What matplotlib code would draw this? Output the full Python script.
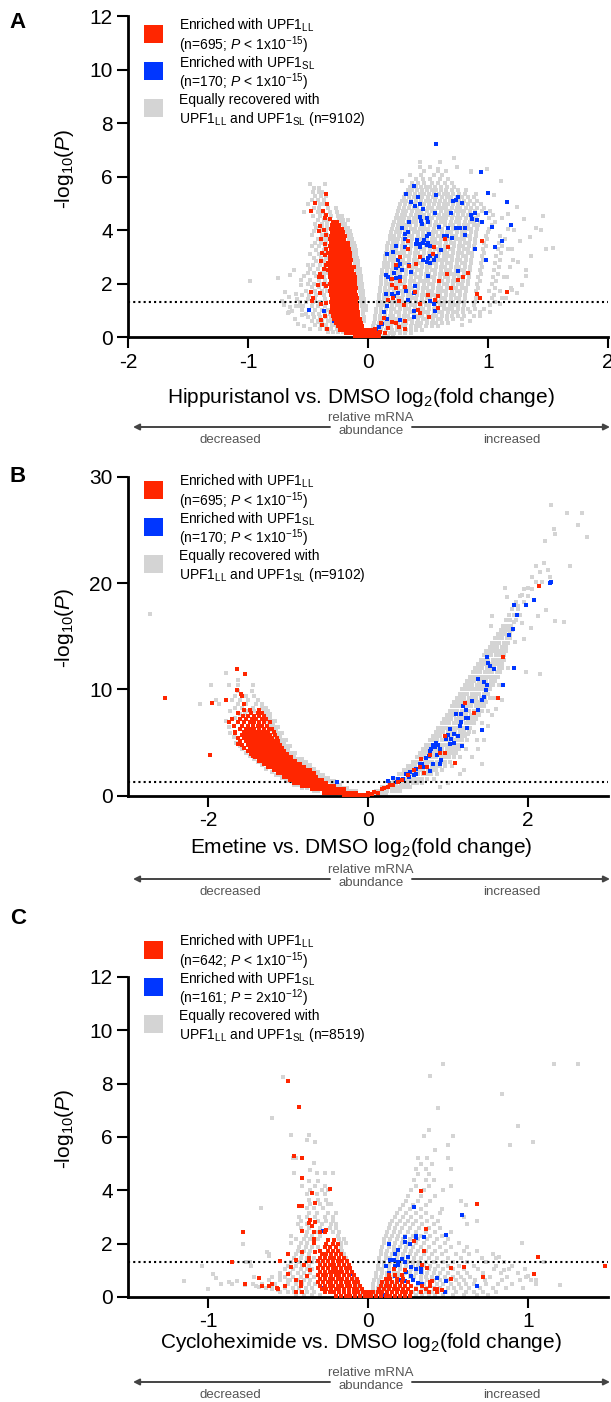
import numpy as np
import matplotlib.pyplot as plt
import matplotlib.patches as mpatches

plt.rcParams['font.family'] = ['Liberation Sans', 'DejaVu Sans']
plt.rcParams['mathtext.fontset'] = 'custom'
plt.rcParams['mathtext.rm'] = 'Liberation Sans'
plt.rcParams['mathtext.it'] = 'Liberation Sans:italic'
plt.rcParams['mathtext.bf'] = 'Liberation Sans:bold'
plt.rcParams['axes.unicode_minus'] = False

RED = '#ff2600'
BLUE = '#0036ff'
GRAY = '#d4d4d4'

# ---------------- panel A : hippuristanol ----------------
# rows are (y, [x, x, ...]), pts are (x, y)
a_gray_rows = [
    (5.72, [-0.48, -0.36]), (5.58, [-0.45, -0.41]), (5.43, [-0.46, -0.41, -0.38]),
    (5.28, [-0.44, -0.39, -0.35]), (5.12, [-0.47, -0.42, -0.37]), (4.98, [-0.5, -0.4, -0.37]),
    (4.84, [-0.45, -0.41, -0.33, -0.27]), (4.68, [-0.53, -0.42, -0.38, -0.32, -0.26]),
    (4.52, [-0.46, -0.4, -0.36, -0.31, -0.25, -0.22]), (4.38, [-0.42, -0.37, -0.33, -0.24, -0.21, -0.17]),
    (4.24, [-0.44, -0.38, -0.34, -0.22, -0.19]), (4.1, [-0.43, -0.38, -0.34, -0.2, -0.17]),
    (3.96, [-0.45, -0.4, -0.35, -0.18, -0.15]), (3.82, [-0.47, -0.38, -0.34, -0.17, -0.14]),
    (3.68, [-0.42, -0.37, -0.35, -0.16, -0.13]), (3.54, [-0.44, -0.39, -0.35, -0.15, -0.12]),
    (3.4, [-0.47, -0.41, -0.36, -0.14, -0.11]), (3.26, [-0.43, -0.37, -0.13, -0.1]),
    (3.12, [-0.48, -0.41, -0.36, -0.12, -0.1]), (2.98, [-0.45, -0.39, -0.35, -0.12, -0.09]),
    (2.84, [-0.43, -0.37, -0.11, -0.08]), (2.7, [-0.46, -0.4, -0.36, -0.11, -0.08]),
    (2.56, [-0.48, -0.42, -0.36, -0.1, -0.07]), (2.42, [-0.5, -0.45, -0.38, -0.35, -0.09, -0.07]),
    (2.28, [-0.53, -0.43, -0.37, -0.09, -0.06]), (2.14, [-0.56, -0.48, -0.41, -0.36, -0.08, -0.06]),
    (2.0, [-0.5, -0.45, -0.39, -0.35, -0.08, -0.05]), (1.86, [-0.47, -0.41, -0.36, -0.07, -0.05]),
    (1.72, [-0.52, -0.44, -0.38, -0.34, -0.07, -0.04]), (1.58, [-0.55, -0.49, -0.43, -0.37, -0.06, -0.04]),
    (1.44, [-0.59, -0.5, -0.44, -0.36, -0.06, -0.03]), (1.3, [-0.57, -0.52, -0.46, -0.4, -0.35, -0.05, -0.03]),
    (1.16, [-0.6, -0.54, -0.47, -0.42, -0.36, -0.05, -0.02]), (1.02, [-0.55, -0.49, -0.44, -0.38, -0.33, -0.04, -0.02]),
    (0.88, [-0.52, -0.46, -0.41, -0.36, -0.32, -0.04]), (0.74, [-0.5, -0.45, -0.4, -0.35, -0.31, -0.03]),
    (0.6, [-0.47, -0.42, -0.38, -0.33, -0.3, -0.03]), (0.46, [-0.44, -0.39, -0.35, -0.3, -0.27]),
    (0.32, [-0.4, -0.35, -0.31, -0.26]), (0.18, [-0.33, -0.29, -0.25, -0.21]),
    # right cloud
    (0.04, [0.02, 0.05, 0.09, 0.13, 0.17, 0.21]),
    (0.16, [0.03, 0.07, 0.1, 0.14, 0.18, 0.22, 0.27, 0.31, 0.36]),
    (0.29, [0.04, 0.08, 0.11, 0.15, 0.2, 0.24, 0.27, 0.32, 0.36, 0.4, 0.45]),
    (0.42, [0.04, 0.08, 0.12, 0.16, 0.19, 0.24, 0.28, 0.31, 0.36, 0.4, 0.43, 0.48, 0.53, 0.58]),
    (0.55, [0.05, 0.09, 0.13, 0.17, 0.2, 0.25, 0.29, 0.32, 0.37, 0.41, 0.44, 0.49, 0.53, 0.57, 0.62, 0.67]),
    (0.68, [0.06, 0.1, 0.13, 0.18, 0.22, 0.25, 0.3, 0.34, 0.37, 0.42, 0.46, 0.49, 0.54, 0.58, 0.61, 0.66, 0.71, 0.78]),
    (0.81, [0.06, 0.1, 0.14, 0.18, 0.21, 0.26, 0.3, 0.33, 0.38, 0.42, 0.45, 0.5, 0.54, 0.57, 0.62, 0.66, 0.7, 0.75, 0.8, 0.88]),
    (0.94, [0.07, 0.11, 0.14, 0.19, 0.23, 0.26, 0.31, 0.35, 0.38, 0.43, 0.47, 0.5, 0.55, 0.59, 0.62, 0.67, 0.71, 0.74, 0.79, 0.85, 0.93]),
    (1.07, [0.07, 0.11, 0.15, 0.19, 0.22, 0.27, 0.31, 0.34, 0.39, 0.43, 0.46, 0.51, 0.55, 0.58, 0.63, 0.67, 0.7, 0.75, 0.79, 0.83, 0.89, 0.97]),
    (1.2, [0.08, 0.12, 0.15, 0.2, 0.24, 0.27, 0.32, 0.36, 0.39, 0.44, 0.48, 0.51, 0.56, 0.6, 0.63, 0.68, 0.72, 0.75, 0.8, 0.88, 1.02]),
    (1.33, [0.08, 0.12, 0.16, 0.2, 0.23, 0.28, 0.32, 0.35, 0.4, 0.44, 0.47, 0.52, 0.56, 0.59, 0.64, 0.68, 0.71, 0.76, 0.8, 0.89, 1.06]),
    (1.46, [0.09, 0.13, 0.16, 0.21, 0.25, 0.28, 0.33, 0.37, 0.4, 0.45, 0.49, 0.52, 0.57, 0.61, 0.64, 0.69, 0.73, 0.76, 0.81, 0.9, 1.03, 1.12]),
    (1.59, [0.09, 0.13, 0.17, 0.21, 0.24, 0.29, 0.33, 0.36, 0.41, 0.45, 0.48, 0.53, 0.57, 0.6, 0.65, 0.69, 0.72, 0.77, 0.81, 0.91, 1.05]),
    (1.72, [0.1, 0.14, 0.17, 0.22, 0.26, 0.29, 0.34, 0.38, 0.41, 0.46, 0.5, 0.53, 0.58, 0.62, 0.65, 0.7, 0.74, 0.77, 0.82, 0.9, 1.01, 1.1]),
    (1.85, [0.1, 0.14, 0.18, 0.22, 0.25, 0.3, 0.34, 0.37, 0.42, 0.46, 0.49, 0.54, 0.58, 0.61, 0.66, 0.7, 0.73, 0.78, 0.82, 0.92, 1.06, 1.19]),
    (1.98, [0.11, 0.15, 0.18, 0.23, 0.27, 0.3, 0.35, 0.39, 0.42, 0.47, 0.51, 0.54, 0.59, 0.63, 0.66, 0.71, 0.75, 0.78, 0.83, 0.91, 1.03]),
    (2.11, [0.11, 0.15, 0.19, 0.23, 0.26, 0.31, 0.35, 0.38, 0.43, 0.47, 0.5, 0.55, 0.59, 0.62, 0.67, 0.71, 0.74, 0.79, 0.83, 0.93, 1.07]),
    (2.24, [0.11, 0.15, 0.19, 0.24, 0.28, 0.31, 0.36, 0.4, 0.43, 0.48, 0.52, 0.55, 0.6, 0.64, 0.67, 0.72, 0.76, 0.79, 0.84, 0.92, 1.04, 1.13]),
    (2.37, [0.12, 0.16, 0.2, 0.24, 0.27, 0.32, 0.36, 0.39, 0.44, 0.48, 0.51, 0.56, 0.6, 0.63, 0.68, 0.72, 0.75, 0.8, 0.84, 0.94, 1.08]),
    (2.5, [0.12, 0.16, 0.2, 0.25, 0.29, 0.32, 0.37, 0.41, 0.44, 0.49, 0.53, 0.56, 0.61, 0.65, 0.68, 0.73, 0.77, 0.8, 0.85, 0.93, 1.05]),
    (2.63, [0.13, 0.17, 0.21, 0.25, 0.28, 0.33, 0.37, 0.4, 0.45, 0.49, 0.52, 0.57, 0.61, 0.64, 0.69, 0.73, 0.76, 0.81, 0.85, 0.95, 1.09, 1.18]),
    (2.76, [0.13, 0.17, 0.21, 0.26, 0.3, 0.33, 0.38, 0.42, 0.45, 0.5, 0.54, 0.57, 0.62, 0.66, 0.69, 0.74, 0.78, 0.81, 0.86, 0.94, 1.06]),
    (2.89, [0.14, 0.18, 0.22, 0.26, 0.29, 0.34, 0.38, 0.41, 0.46, 0.5, 0.53, 0.58, 0.62, 0.65, 0.7, 0.74, 0.77, 0.82, 0.86, 0.96, 1.1, 1.21]),
    (3.02, [0.14, 0.18, 0.22, 0.27, 0.31, 0.34, 0.39, 0.43, 0.46, 0.51, 0.55, 0.58, 0.63, 0.67, 0.7, 0.75, 0.79, 0.82, 0.87, 0.95, 1.07]),
    (3.15, [0.15, 0.19, 0.23, 0.27, 0.3, 0.35, 0.39, 0.42, 0.47, 0.51, 0.54, 0.59, 0.63, 0.66, 0.71, 0.75, 0.78, 0.83, 0.87, 0.97, 1.11]),
    (3.28, [0.16, 0.2, 0.23, 0.28, 0.32, 0.35, 0.4, 0.44, 0.47, 0.52, 0.56, 0.59, 0.64, 0.68, 0.71, 0.76, 0.8, 0.83, 0.88, 0.96, 1.08, 1.17]),
    (3.41, [0.16, 0.2, 0.24, 0.28, 0.31, 0.36, 0.4, 0.43, 0.48, 0.52, 0.55, 0.6, 0.64, 0.67, 0.72, 0.76, 0.79, 0.84, 0.88, 0.98, 1.12]),
    (3.54, [0.17, 0.21, 0.24, 0.29, 0.33, 0.36, 0.41, 0.45, 0.48, 0.53, 0.57, 0.6, 0.65, 0.69, 0.72, 0.77, 0.81, 0.84, 0.89, 0.97, 1.09]),
    (3.67, [0.18, 0.22, 0.25, 0.29, 0.32, 0.37, 0.41, 0.44, 0.49, 0.53, 0.56, 0.61, 0.65, 0.68, 0.73, 0.77, 0.8, 0.85, 0.89, 0.99, 1.14]),
    (3.8, [0.18, 0.22, 0.26, 0.3, 0.34, 0.37, 0.42, 0.46, 0.49, 0.54, 0.58, 0.61, 0.66, 0.7, 0.73, 0.78, 0.82, 0.85, 0.9, 0.98, 1.1]),
    (3.93, [0.19, 0.23, 0.27, 0.31, 0.34, 0.38, 0.42, 0.46, 0.5, 0.54, 0.57, 0.62, 0.66, 0.69, 0.74, 0.78, 0.81, 0.86, 0.9, 1.0]),
    (4.06, [0.2, 0.24, 0.27, 0.32, 0.36, 0.39, 0.43, 0.47, 0.5, 0.55, 0.59, 0.62, 0.67, 0.71, 0.74, 0.79, 0.83, 0.86, 0.91, 1.01, 1.17]),
    (4.19, [0.21, 0.25, 0.28, 0.32, 0.35, 0.4, 0.44, 0.47, 0.52, 0.56, 0.59, 0.64, 0.68, 0.71, 0.76, 0.8, 0.83, 0.88, 0.92, 1.03]),
    (4.32, [0.22, 0.26, 0.29, 0.33, 0.37, 0.4, 0.45, 0.49, 0.52, 0.57, 0.61, 0.64, 0.69, 0.73, 0.76, 0.81, 0.85, 0.88, 0.93, 1.06]),
    (4.45, [0.23, 0.27, 0.3, 0.34, 0.38, 0.42, 0.46, 0.5, 0.53, 0.58, 0.62, 0.65, 0.7, 0.74, 0.77, 0.82, 0.86, 0.9, 1.01, 1.12]),
    (4.58, [0.24, 0.28, 0.31, 0.36, 0.4, 0.43, 0.47, 0.51, 0.55, 0.59, 0.63, 0.67, 0.71, 0.75, 0.79, 0.83, 0.87, 0.92, 1.04]),
    (4.71, [0.25, 0.29, 0.32, 0.37, 0.41, 0.44, 0.49, 0.53, 0.56, 0.61, 0.65, 0.68, 0.73, 0.77, 0.8, 0.85, 0.89, 0.95, 1.02]),
    (4.84, [0.26, 0.3, 0.34, 0.38, 0.41, 0.46, 0.5, 0.53, 0.58, 0.62, 0.65, 0.7, 0.74, 0.77, 0.82, 0.86, 0.91, 0.97]),
    (4.97, [0.27, 0.31, 0.35, 0.39, 0.43, 0.47, 0.51, 0.55, 0.59, 0.63, 0.67, 0.71, 0.75, 0.79, 0.83, 0.88, 0.94]),
    (5.1, [0.28, 0.32, 0.36, 0.4, 0.44, 0.48, 0.52, 0.56, 0.6, 0.64, 0.68, 0.72, 0.76, 0.8, 0.85, 0.91]),
    (5.23, [0.3, 0.34, 0.38, 0.42, 0.45, 0.5, 0.54, 0.57, 0.62, 0.66, 0.69, 0.74, 0.78, 0.83, 0.88]),
    (5.36, [0.31, 0.35, 0.39, 0.43, 0.47, 0.51, 0.55, 0.59, 0.63, 0.67, 0.71, 0.76, 0.81, 0.9]),
    (5.49, [0.33, 0.37, 0.41, 0.45, 0.49, 0.53, 0.57, 0.61, 0.65, 0.7, 0.75, 0.82]),
    (5.62, [0.35, 0.4, 0.44, 0.48, 0.52, 0.56, 0.61, 0.66, 0.72]),
    (5.76, [0.37, 0.42, 0.47, 0.53, 0.58, 0.64, 0.7]),
    (5.9, [0.4, 0.46, 0.52, 0.6, 0.67]), (6.05, [0.35, 0.44, 0.55, 0.62]),
    (6.2, [0.47, 0.58, 0.65, 0.86]), (6.35, [0.43, 0.52, 0.74]), (6.55, [0.43, 0.6]), (6.7, [0.72]),
]
a_gray_pts = [
    (-0.98, 2.12), (-0.75, 2.2), (-0.65, 2.33), (-0.72, 1.37), (-0.66, 0.96), (-0.69, 1.71),
    (-0.66, 1.52), (-0.7, 1.2), (-0.65, 1.14), (-0.67, 0.92), (-0.63, 0.99), (-0.57, 1.17),
    (-0.61, 0.7), (-0.58, 0.5), (-0.53, 0.42), (-0.48, 0.3), (-0.42, 0.56), (-0.55, 0.85),
    (-0.6, 1.6), (-0.56, 1.95), (-0.62, 2.5), (-0.5, 2.7),
    (1.24, 4.85), (1.46, 4.53), (1.4, 4.1), (1.44, 3.99), (1.54, 3.35), (1.48, 3.3), (1.36, 3.04),
    (1.32, 2.52), (1.32, 2.3), (1.28, 1.96), (1.24, 1.64), (1.2, 1.78), (1.16, 2.27), (1.11, 5.82),
    (0.99, 6.3), (1.22, 4.0), (1.27, 3.6), (1.2, 3.3), (1.25, 2.8), (1.15, 1.45), (1.1, 1.25),
    (1.02, 0.95), (0.93, 0.8), (0.85, 0.6), (0.78, 0.45), (0.86, 6.16), (0.65, 6.2), (0.58, 6.29),
    (0.28, 5.82), (1.3, 4.4), (1.35, 3.75), (1.17, 4.6), (1.05, 5.3),
]
a_red_rows = [
    (4.32, [-0.29, -0.26]), (4.19, [-0.3, -0.27, -0.24]), (4.06, [-0.31, -0.28, -0.25, -0.22]),
    (3.93, [-0.3, -0.27, -0.24, -0.21]), (3.8, [-0.31, -0.28, -0.25, -0.22, -0.19]),
    (3.67, [-0.32, -0.29, -0.26, -0.23, -0.2]), (3.54, [-0.31, -0.28, -0.25, -0.22, -0.19, -0.17]),
    (3.41, [-0.32, -0.29, -0.26, -0.23, -0.2, -0.17]), (3.28, [-0.31, -0.28, -0.25, -0.22, -0.19, -0.16]),
    (3.15, [-0.33, -0.3, -0.27, -0.24, -0.21, -0.18, -0.15]), (3.02, [-0.32, -0.29, -0.26, -0.23, -0.2, -0.17, -0.15]),
    (2.89, [-0.32, -0.29, -0.26, -0.23, -0.2, -0.17, -0.14]), (2.76, [-0.33, -0.3, -0.27, -0.24, -0.21, -0.18, -0.15]),
    (2.63, [-0.32, -0.29, -0.26, -0.23, -0.2, -0.17, -0.14, -0.12]),
    (2.5, [-0.33, -0.3, -0.27, -0.24, -0.21, -0.18, -0.15, -0.13]),
    (2.37, [-0.32, -0.29, -0.26, -0.23, -0.2, -0.17, -0.14, -0.12]),
    (2.24, [-0.32, -0.29, -0.26, -0.23, -0.2, -0.17, -0.14, -0.11]),
    (2.11, [-0.31, -0.28, -0.25, -0.22, -0.19, -0.16, -0.13, -0.11]),
    (1.98, [-0.32, -0.29, -0.26, -0.23, -0.2, -0.17, -0.14, -0.11]),
    (1.85, [-0.31, -0.28, -0.25, -0.22, -0.19, -0.16, -0.13, -0.1]),
    (1.72, [-0.32, -0.29, -0.26, -0.23, -0.2, -0.17, -0.14, -0.11]),
    (1.59, [-0.31, -0.28, -0.25, -0.22, -0.19, -0.16, -0.13, -0.1]),
    (1.46, [-0.3, -0.27, -0.24, -0.21, -0.18, -0.15, -0.12, -0.09]),
    (1.33, [-0.31, -0.28, -0.25, -0.22, -0.19, -0.16, -0.13, -0.1]),
    (1.2, [-0.3, -0.27, -0.24, -0.21, -0.18, -0.15, -0.12, -0.09]),
    (1.07, [-0.3, -0.27, -0.24, -0.21, -0.18, -0.15, -0.12, -0.09]),
    (0.94, [-0.29, -0.26, -0.23, -0.2, -0.17, -0.14, -0.11, -0.08]),
    (0.81, [-0.29, -0.26, -0.23, -0.2, -0.17, -0.14, -0.11, -0.08]),
    (0.68, [-0.28, -0.25, -0.22, -0.19, -0.16, -0.13, -0.1, -0.07]),
    (0.55, [-0.27, -0.24, -0.21, -0.18, -0.15, -0.12, -0.09, -0.06]),
    (0.42, [-0.25, -0.22, -0.19, -0.16, -0.13, -0.1, -0.07, -0.05]),
    (0.29, [-0.23, -0.2, -0.17, -0.14, -0.11, -0.08, -0.05, -0.03, 0.0, 0.03]),
    (0.16, [-0.18, -0.15, -0.12, -0.09, -0.06, -0.03, -0.01, 0.02, 0.05, 0.08]),
    (0.04, [-0.11, -0.08, -0.05, -0.02, 0.0, 0.03, 0.06, 0.09]),
]
a_red_pts = [
    (-0.35, 5.36), (-0.44, 5.03), (-0.34, 4.98), (-0.475, 4.73), (-0.375, 4.7), (-0.35, 4.57),
    (-0.36, 4.45), (-0.32, 4.4), (-0.4, 4.17), (-0.41, 3.97), (-0.35, 3.82), (-0.39, 3.67),
    (-0.36, 3.49), (-0.38, 3.15), (-0.36, 3.08), (-0.39, 2.86), (-0.35, 2.71), (-0.37, 2.56),
    (-0.4, 2.37), (-0.38, 2.25), (-0.41, 2.24), (-0.42, 1.96), (-0.475, 1.71), (-0.46, 1.48),
    (-0.4, 1.64), (-0.47, 1.37), (-0.39, 1.23), (-0.35, 1.27), (-0.39, 0.63), (-0.31, 0.95),
    (-0.36, 0.8), (-0.35, 1.9), (-0.37, 2.0), (-0.38, 0.45), (-0.34, 0.3), (-0.35, 3.3), (-0.37, 4.0),
    (0.33, 3.58), (0.33, 3.3), (0.64, 3.67), (0.67, 3.38), (0.95, 3.58), (0.55, 3.38), (0.27, 3.01),
    (0.43, 3.01), (0.54, 3.11), (0.4, 2.74), (0.23, 2.7), (0.34, 2.66), (0.66, 2.37), (0.83, 2.42),
    (0.79, 2.27), (0.75, 2.15), (0.59, 2.12), (0.69, 1.83), (0.2, 2.17), (0.2, 1.97), (0.23, 1.85),
    (0.31, 1.86), (0.27, 2.12), (0.39, 1.7), (0.5, 1.57), (0.58, 1.53), (0.56, 1.4), (0.91, 1.6),
    (0.93, 1.45), (1.16, 1.68), (0.17, 1.4), (0.21, 1.46), (0.26, 1.36), (0.3, 1.21), (0.43, 1.26),
    (0.58, 1.11), (0.42, 1.02), (0.43, 0.92), (0.51, 0.77), (0.31, 0.62), (0.2, 0.57), (0.23, 0.52),
    (0.26, 0.4), (0.31, 0.3), (0.13, 0.71), (0.11, 0.52), (0.06, 0.3), (0.1, 0.2), (0.14, 0.15), (0.17, 0.35),
]
a_blue_pts = [
    (0.57, 7.23), (0.94, 6.16), (0.38, 5.66), (0.32, 5.37), (0.57, 5.33), (0.42, 5.25), (0.75, 5.25),
    (1.0, 5.4), (0.73, 5.12), (0.71, 5.1), (0.78, 5.03), (0.36, 5.07), (0.39, 4.9), (0.43, 4.98),
    (0.46, 4.8), (1.16, 5.04), (0.56, 4.65), (0.69, 4.65), (0.89, 4.65), (0.98, 4.65), (0.86, 4.56),
    (0.87, 4.4), (0.91, 4.37), (0.43, 4.51), (0.49, 4.46), (0.44, 4.35), (0.5, 4.29), (0.45, 4.22),
    (0.34, 4.32), (0.95, 4.32), (1.19, 4.2), (0.59, 4.13), (0.73, 4.1), (0.77, 4.1), (0.81, 4.08),
    (0.28, 4.08), (0.67, 4.07), (1.03, 4.13), (0.33, 3.92), (0.31, 3.86), (0.81, 3.82), (0.49, 3.8),
    (0.51, 3.84), (0.63, 3.78), (0.66, 3.8), (0.7, 3.7), (0.31, 3.69), (0.41, 3.62), (0.43, 3.5),
    (0.46, 3.52), (0.47, 3.65), (0.5, 3.54), (0.52, 3.42), (0.49, 3.44), (1.12, 3.6), (0.23, 3.4),
    (0.31, 3.36), (0.33, 3.28), (0.4, 3.5), (0.43, 3.38), (0.61, 3.27), (0.89, 3.3), (1.06, 3.38),
    (0.16, 3.1), (0.21, 3.19), (0.52, 3.03), (0.57, 3.03), (0.46, 2.9), (0.49, 2.82), (0.52, 2.78),
    (0.55, 2.88), (0.5, 2.95), (0.25, 2.87), (0.27, 2.75), (0.25, 2.65), (0.23, 2.57), (0.28, 2.5),
    (0.22, 2.4), (0.34, 2.69), (0.98, 2.89), (0.15, 2.32), (0.17, 2.25), (0.23, 2.23), (0.27, 2.25),
    (0.19, 2.16), (0.36, 2.45), (0.5, 2.3), (0.75, 2.46), (0.39, 1.92), (0.32, 1.74), (0.38, 1.66),
    (0.25, 1.65), (0.2, 1.6), (0.15, 1.6), (0.22, 1.56), (0.52, 1.36), (0.55, 1.23), (0.33, 1.4),
    (0.16, 1.16), (0.13, 0.96), (0.56, 1.0), (0.38, 1.0), (0.27, 0.65), (0.16, 0.7), (0.38, 0.77),
    (0.12, 0.5), (0.09, 0.37), (0.07, 0.28), (-0.49, 1.02), (-0.37, 1.0), (-0.28, 0.6), (-0.11, 1.65),
    (-0.06, 0.35),
]

# ---------------- panel B : emetine ----------------
b_gray_rows = [
    (0.1, [-0.45, -0.4, 0.03]), (0.45, [-0.68, -0.62, -0.25, -0.2, -0.15]),
    (0.75, [-0.82, -0.76, -0.36, -0.31, -0.26]), (1.05, [-0.93, -0.88, -0.45, -0.4, -0.35]),
    (1.35, [-1.02, -0.97, -0.53, -0.48, -0.43]), (1.65, [-1.08, -1.03, -0.6, -0.55, -0.5]),
    (1.95, [-1.15, -1.1, -0.66, -0.61, -0.56]), (2.25, [-1.2, -0.72, -0.67, -0.62]),
    (2.55, [-1.27, -0.77, -0.72, -0.67]), (2.85, [-1.33, -0.82, -0.77, -0.72]),
    (3.15, [-1.38, -0.87, -0.82, -0.77]), (3.45, [-1.43, -0.92, -0.87, -0.82]),
    (3.75, [-1.48, -0.97, -0.92]), (4.05, [-1.53, -1.01, -0.96, -0.91]), (4.35, [-1.58, -1.05, -1.0]),
    (4.65, [-1.6, -1.08, -1.03, -0.98]), (4.95, [-1.65, -1.1, -1.05]), (5.25, [-1.13, -1.08, -1.03]),
    (5.55, [-1.68, -1.15, -1.1]), (5.85, [-1.72, -1.18, -1.13, -1.08]), (6.15, [-1.2, -1.15]),
    (6.45, [-1.74, -1.22, -1.17, -1.12]), (6.75, [-1.24, -1.19]), (7.05, [-1.78, -1.26, -1.21, -1.16]),
    (7.35, [-1.66, -1.27, -1.22]), (7.65, [-1.6, -1.54, -1.28, -1.23]),
    (7.95, [-1.72, -1.5, -1.42, -1.3, -1.25]), (8.25, [-1.66, -1.58, -1.44, -1.32, -1.27]),
    (8.6, [-2.1, -1.86, -1.62, -1.52, -1.4, -1.33]), (9.0, [-1.9, -1.7, -1.6, -1.5, -1.38]),
    (9.4, [-1.66, -1.52, -1.42]), (9.8, [-1.63, -1.45]), (10.4, [-1.96, -1.74, -1.63, -1.44]),
    (10.9, [-1.63]), (11.5, [-1.77]), (17.1, [-2.73]),
    # right arm
    (0.05, [-0.02, 0.03, 0.08, 0.13, 0.18, 0.23]),
    (0.4, [0.1, 0.15, 0.19, 0.24, 0.3, 0.35, 0.4]),
    (0.8, [0.18, 0.23, 0.27, 0.33, 0.38, 0.42, 0.48, 0.53]),
    (1.2, [0.26, 0.31, 0.35, 0.41, 0.46, 0.5, 0.56, 0.61, 0.68]),
    (1.6, [0.33, 0.38, 0.42, 0.48, 0.53, 0.57, 0.63, 0.68, 0.74, 0.82]),
    (2.0, [0.39, 0.44, 0.48, 0.54, 0.59, 0.63, 0.69, 0.74, 0.79, 0.86]),
    (2.4, [0.45, 0.5, 0.54, 0.6, 0.65, 0.69, 0.75, 0.8, 0.85, 0.92]),
    (2.8, [0.5, 0.55, 0.59, 0.65, 0.7, 0.74, 0.8, 0.85, 0.9, 0.96, 1.05]),
    (3.2, [0.56, 0.61, 0.65, 0.71, 0.76, 0.8, 0.86, 0.91, 0.96, 1.02]),
    (3.6, [0.61, 0.66, 0.7, 0.76, 0.81, 0.85, 0.91, 0.96, 1.01, 1.07, 1.15]),
    (4.0, [0.65, 0.7, 0.74, 0.8, 0.85, 0.89, 0.95, 1.0, 1.05, 1.1]),
    (4.4, [0.69, 0.74, 0.78, 0.84, 0.89, 0.93, 0.99, 1.04, 1.09, 1.14, 1.22]),
    (4.8, [0.73, 0.78, 0.82, 0.88, 0.93, 0.97, 1.03, 1.08, 1.13, 1.18]),
    (5.2, [0.77, 0.82, 0.86, 0.92, 0.97, 1.01, 1.07, 1.12, 1.17, 1.24, 1.36]),
    (5.6, [0.81, 0.86, 0.9, 0.96, 1.01, 1.05, 1.11, 1.16, 1.21]),
    (6.0, [0.85, 0.9, 0.94, 1.0, 1.05, 1.09, 1.15, 1.2, 1.26, 1.33]),
    (6.4, [0.88, 0.93, 0.97, 1.03, 1.08, 1.12, 1.18, 1.23, 1.28]),
    (6.8, [0.92, 0.97, 1.01, 1.07, 1.12, 1.16, 1.22, 1.27, 1.32, 1.43]),
    (7.2, [0.95, 1.0, 1.04, 1.1, 1.15, 1.19, 1.25, 1.3, 1.35]),
    (7.6, [0.99, 1.04, 1.08, 1.14, 1.19, 1.23, 1.29, 1.34, 1.39]),
    (8.0, [1.02, 1.07, 1.11, 1.17, 1.22, 1.26, 1.32, 1.37, 1.42, 1.5]),
    (8.4, [1.05, 1.1, 1.14, 1.2, 1.25, 1.29, 1.35, 1.4, 1.45]),
    (8.8, [1.08, 1.13, 1.17, 1.23, 1.28, 1.32, 1.38, 1.43, 1.48]),
    (9.2, [1.11, 1.16, 1.2, 1.26, 1.31, 1.35, 1.41, 1.46, 1.52, 1.58]),
    (9.6, [1.15, 1.2, 1.24, 1.3, 1.35, 1.39, 1.45, 1.5]),
    (10.0, [1.18, 1.23, 1.27, 1.33, 1.38, 1.42, 1.48, 1.53]),
    (10.4, [1.21, 1.26, 1.3, 1.36, 1.41, 1.45, 1.51, 1.56, 1.64]),
    (10.8, [1.24, 1.29, 1.33, 1.39, 1.44, 1.48, 1.54, 1.59]),
    (11.2, [1.28, 1.33, 1.37, 1.43, 1.48, 1.52, 1.58, 1.62]),
    (11.6, [1.31, 1.36, 1.4, 1.46, 1.51, 1.55, 1.61, 1.65]),
    (12.0, [1.34, 1.39, 1.43, 1.49, 1.54, 1.58, 1.64, 1.68]),
    (12.4, [1.38, 1.43, 1.47, 1.53, 1.58, 1.62, 1.67]),
    (12.8, [1.41, 1.46, 1.5, 1.56, 1.61, 1.65, 1.7]),
    (13.2, [1.45, 1.5, 1.54, 1.6, 1.65, 1.7]),
    (13.6, [1.48, 1.53, 1.57, 1.63, 1.68, 1.73]),
    (14.0, [1.52, 1.57, 1.61, 1.67, 1.72]),
    (14.4, [1.55, 1.6, 1.64, 1.7, 1.75]),
    (14.8, [1.59, 1.64, 1.68, 1.74, 1.78]),
    (15.2, [1.62, 1.67, 1.71, 1.77]), (15.6, [1.66, 1.71, 1.75, 1.8]), (16.0, [1.69, 1.74, 1.79]),
    (16.5, [1.72, 1.78, 1.85]), (17.0, [1.76, 1.82, 1.9]), (17.6, [1.8, 1.88]),
    (18.2, [1.85, 1.95]), (18.8, [1.9, 2.0]), (19.4, [1.95, 2.05]),
]
b_gray_pts = [
    (2.29, 27.3), (2.49, 26.6), (2.68, 26.6), (2.62, 25.5), (2.33, 25.1), (2.34, 24.6), (2.21, 24.0),
    (2.74, 24.3), (2.52, 21.6), (2.2, 21.9), (2.25, 21.2), (2.28, 20.6), (2.1, 21.6), (2.17, 20.1),
    (2.1, 20.1), (1.71, 19.5), (1.74, 18.65), (1.92, 18.9), (1.76, 17.0), (1.83, 16.3), (1.92, 16.2),
    (2.12, 16.9), (2.23, 17.5), (2.34, 16.4), (2.45, 16.3), (2.04, 15.8), (1.95, 14.7), (1.84, 14.5),
    (1.97, 11.6), (2.15, 11.4), (1.75, 12.0), (1.55, 16.9), (1.54, 16.0), (2.0, 19.5), (2.05, 20.6),
    (2.15, 21.0), (1.88, 17.8), (1.68, 9.0), (1.6, 8.2), (1.5, 6.6), (1.45, 5.2), (1.38, 4.4),
    (1.3, 3.6), (1.25, 5.8), (1.55, 7.6), (1.42, 3.0), (1.2, 2.4), (1.15, 2.0), (1.0, 1.2), (0.9, 0.8),
]
b_red_rows = [
    (0.05, [-0.3, -0.25, -0.2, -0.15, -0.1, -0.05, 0.0]),
    (0.3, [-0.55, -0.5, -0.45, -0.4, -0.35, -0.3, -0.25, -0.2, -0.15]),
    (0.6, [-0.7, -0.65, -0.6, -0.55, -0.5, -0.45, -0.4, -0.35, -0.3]),
    (0.9, [-0.82, -0.77, -0.72, -0.67, -0.62, -0.57, -0.52, -0.47, -0.42]),
    (1.2, [-0.92, -0.87, -0.82, -0.77, -0.72, -0.67, -0.62, -0.57, -0.52]),
    (1.5, [-0.98, -0.93, -0.88, -0.83, -0.78, -0.73, -0.68, -0.63, -0.58]),
    (1.8, [-1.05, -1.0, -0.95, -0.9, -0.85, -0.8, -0.75, -0.7, -0.65]),
    (2.1, [-1.12, -1.07, -1.02, -0.97, -0.92, -0.87, -0.82, -0.77, -0.72, -0.67]),
    (2.4, [-1.18, -1.13, -1.08, -1.03, -0.98, -0.93, -0.88, -0.83, -0.78, -0.73]),
    (2.7, [-1.25, -1.2, -1.15, -1.1, -1.05, -1.0, -0.95, -0.9, -0.85, -0.8]),
    (3.0, [-1.3, -1.25, -1.2, -1.15, -1.1, -1.05, -1.0, -0.95, -0.9, -0.85]),
    (3.3, [-1.36, -1.31, -1.26, -1.21, -1.16, -1.11, -1.06, -1.01, -0.96, -0.91]),
    (3.6, [-1.41, -1.36, -1.31, -1.26, -1.21, -1.16, -1.11, -1.06, -1.01, -0.96]),
    (3.9, [-1.46, -1.41, -1.36, -1.31, -1.26, -1.21, -1.16, -1.11, -1.06, -1.01]),
    (4.2, [-1.5, -1.45, -1.4, -1.35, -1.3, -1.25, -1.2, -1.15, -1.1, -1.05]),
    (4.5, [-1.55, -1.48, -1.43, -1.38, -1.33, -1.28, -1.23, -1.18, -1.13, -1.08]),
    (4.8, [-1.57, -1.5, -1.45, -1.4, -1.35, -1.3, -1.25, -1.2, -1.15, -1.1]),
    (5.1, [-1.6, -1.52, -1.47, -1.42, -1.37, -1.32, -1.27, -1.22, -1.17, -1.12]),
    (5.4, [-1.62, -1.55, -1.5, -1.45, -1.4, -1.35, -1.3, -1.25, -1.2, -1.14]),
    (5.7, [-1.58, -1.52, -1.47, -1.42, -1.37, -1.32, -1.27, -1.22, -1.16]),
    (6.0, [-1.66, -1.55, -1.5, -1.45, -1.4, -1.35, -1.3, -1.25, -1.18]),
    (6.3, [-1.6, -1.52, -1.47, -1.42, -1.36, -1.3, -1.24, -1.2]),
    (6.6, [-1.68, -1.57, -1.5, -1.44, -1.38, -1.33, -1.26]),
    (6.9, [-1.62, -1.55, -1.48, -1.43, -1.36, -1.3, -1.23]),
    (7.2, [-1.7, -1.6, -1.52, -1.45, -1.4, -1.33, -1.27]),
    (7.5, [-1.56, -1.5, -1.42, -1.36, -1.3]), (7.8, [-1.63, -1.46, -1.38, -1.32]),
    (8.1, [-1.55, -1.48, -1.36]),
]
b_red_pts = [
    (-2.54, 9.22), (-1.97, 3.83), (-1.64, 11.92), (-1.54, 11.45), (-1.95, 8.75), (-1.77, 9.0),
    (-1.64, 9.9), (-1.59, 9.6), (-1.57, 9.4), (-1.55, 8.6), (-1.74, 6.96), (-1.66, 5.85),
    (-1.62, 4.86), (-1.46, 4.0), (-1.44, 3.7),
    (-0.09, 0.06), (0.0, 0.22), (0.08, 0.38), (0.17, 0.6), (0.25, 0.85), (0.31, 1.0), (0.37, 1.32),
    (0.42, 1.47), (0.5, 1.94), (0.58, 2.41), (0.66, 3.42), (0.65, 2.73), (0.74, 2.73), (0.7, 2.1),
    (0.78, 3.83), (0.9, 3.98), (0.96, 3.98), (0.96, 5.6), (1.09, 3.1), (1.21, 8.75), (1.33, 7.75),
    (1.63, 9.2), (1.69, 13.05), (2.14, 19.75), (0.05, 0.15), (0.12, 0.3), (0.2, 0.7), (0.28, 1.0),
]
b_blue_pts = [
    (2.29, 20.1), (2.27, 20.0), (2.08, 18.4), (1.97, 17.9), (1.82, 17.9), (1.86, 17.0), (1.81, 15.7),
    (1.76, 15.1), (1.82, 12.0), (1.49, 13.0), (1.5, 12.5), (1.53, 12.2), (1.58, 11.9), (1.69, 10.4),
    (1.38, 11.0), (1.45, 10.7), (1.49, 10.4), (1.48, 9.9), (1.45, 9.3), (1.42, 9.0), (1.3, 8.95),
    (1.19, 8.45), (1.22, 8.1), (1.38, 8.1), (1.16, 7.7), (1.1, 7.7), (1.25, 7.3), (1.23, 7.3),
    (1.16, 6.9), (1.15, 6.6), (1.24, 6.4), (1.42, 6.2), (1.02, 6.3), (1.0, 5.7), (1.07, 5.8),
    (1.12, 5.6), (0.96, 5.6), (0.98, 5.3), (1.04, 5.35), (1.08, 5.0), (1.02, 4.9), (0.85, 5.0),
    (0.88, 4.75), (0.81, 4.75), (0.84, 4.6), (0.9, 4.4), (0.86, 3.85), (0.79, 4.4), (1.17, 4.7),
    (0.78, 4.2), (0.76, 3.75), (0.73, 3.5), (0.81, 3.0), (0.9, 3.0), (0.91, 3.4), (0.77, 2.3),
    (0.65, 3.0), (0.68, 3.0), (0.7, 2.7), (0.6, 2.5), (0.53, 2.2), (0.6, 2.0), (0.57, 1.9),
    (0.48, 2.05), (0.51, 1.75), (0.44, 1.6), (0.38, 1.6), (0.36, 1.3), (0.31, 1.7), (0.28, 1.05),
    (0.25, 1.4), (-0.39, 1.3),
]

# ---------------- panel C : cycloheximide ----------------
c_gray_rows = [
    (0.06, [-0.45, -0.4, -0.35, -0.3, -0.03]), (0.2, [-0.55, -0.5, -0.46, -0.42, -0.38, -0.34, -0.05]),
    (0.34, [-0.6, -0.52, -0.47, -0.43, -0.39, -0.35, -0.06]),
    (0.48, [-0.72, -0.66, -0.58, -0.5, -0.45, -0.41, -0.37, -0.33, -0.07]),
    (0.62, [-0.62, -0.55, -0.49, -0.44, -0.4, -0.36, -0.08]), (0.76, [-0.6, -0.52, -0.47, -0.42, -0.38, -0.34, -0.09]),
    (0.9, [-0.55, -0.49, -0.44, -0.4, -0.36, -0.1]), (1.04, [-0.52, -0.47, -0.42, -0.38, -0.35, -0.11]),
    (1.18, [-0.73, -0.5, -0.45, -0.41, -0.37, -0.12]), (1.32, [-0.76, -0.48, -0.43, -0.39, -0.35, -0.13]),
    (1.46, [-0.46, -0.42, -0.38, -0.34, -0.14]), (1.6, [-0.62, -0.45, -0.41, -0.37, -0.15]),
    (1.74, [-0.44, -0.4, -0.36, -0.16]), (1.88, [-0.43, -0.39, -0.35, -0.31, -0.17]),
    (2.02, [-0.48, -0.42, -0.38, -0.34, -0.17, -0.14]), (2.16, [-0.45, -0.4, -0.36, -0.31, -0.18, -0.15]),
    (2.3, [-0.48, -0.39, -0.35, -0.3, -0.19]), (2.44, [-0.38, -0.32, -0.22, -0.18]),
    (2.58, [-0.42, -0.37, -0.3, -0.24, -0.2]), (2.72, [-0.44, -0.38, -0.29, -0.23, -0.2]),
    (2.86, [-0.42, -0.31, -0.26, -0.22]), (3.0, [-0.43, -0.38, -0.33, -0.27, -0.22]),
    (3.15, [-0.37, -0.32, -0.25, -0.2]), (3.32, [-0.67, -0.38, -0.34, -0.28]),
    (3.5, [-0.36, -0.3, -0.25, -0.23]), (3.65, [-0.37, -0.31, -0.26]), (3.85, [-0.38, -0.32, -0.27]),
    (4.0, [-0.36, -0.29, -0.25]), (4.15, [-0.41, -0.33, -0.27]), (4.35, [-0.37, -0.31]),
    (4.65, [-0.46, -0.32, -0.27, -0.22]), (4.75, [-0.36]), (5.02, [-0.34]), (5.23, [-0.47, -0.45]),
    (5.8, [-0.33]), (5.9, [-0.38]), (6.08, [-0.48, -0.37]), (6.7, [-0.6]), (8.26, [-0.53]),
    # right cloud
    (0.06, [0.01, 0.04, 0.3, 0.34, 0.38, 0.42, 0.47, 0.53, 0.6, 0.68, 0.75]),
    (0.2, [0.02, 0.05, 0.08, 0.28, 0.32, 0.36, 0.4, 0.44, 0.49, 0.55, 0.61, 0.66, 0.72, 0.8]),
    (0.34, [0.03, 0.06, 0.09, 0.12, 0.3, 0.34, 0.37, 0.41, 0.45, 0.5, 0.54, 0.58, 0.63, 0.7, 0.78, 0.86, 0.97]),
    (0.48, [0.03, 0.07, 0.1, 0.14, 0.17, 0.31, 0.35, 0.39, 0.43, 0.47, 0.52, 0.57, 0.61, 0.66, 0.74, 0.81, 0.9, 1.05]),
    (0.62, [0.04, 0.07, 0.11, 0.14, 0.18, 0.21, 0.33, 0.37, 0.41, 0.45, 0.5, 0.55, 0.6, 0.67, 0.73, 0.84, 0.95, 1.02]),
    (0.76, [0.05, 0.08, 0.12, 0.15, 0.19, 0.22, 0.26, 0.29, 0.33, 0.36, 0.4, 0.44, 0.48, 0.53, 0.58, 0.64, 0.76, 0.87, 0.99]),
    (0.9, [0.05, 0.09, 0.12, 0.16, 0.19, 0.23, 0.26, 0.3, 0.34, 0.37, 0.41, 0.45, 0.5, 0.56, 0.62, 0.72, 0.83, 0.94]),
    (1.04, [0.06, 0.09, 0.13, 0.16, 0.2, 0.23, 0.27, 0.31, 0.34, 0.38, 0.42, 0.47, 0.53, 0.6, 0.69, 0.79, 0.88, 0.98]),
    (1.18, [0.06, 0.1, 0.13, 0.17, 0.2, 0.24, 0.28, 0.31, 0.35, 0.39, 0.44, 0.5, 0.57, 0.66, 0.8, 0.9]),
    (1.32, [0.07, 0.1, 0.14, 0.17, 0.21, 0.25, 0.28, 0.32, 0.36, 0.41, 0.47, 0.53, 0.62, 0.74, 0.85]),
    (1.46, [0.07, 0.11, 0.14, 0.18, 0.22, 0.25, 0.29, 0.33, 0.38, 0.43, 0.5, 0.58, 0.71, 0.8]),
    (1.6, [0.08, 0.11, 0.15, 0.19, 0.22, 0.26, 0.3, 0.35, 0.4, 0.46, 0.55, 0.63, 0.78]),
    (1.74, [0.08, 0.12, 0.16, 0.19, 0.23, 0.27, 0.31, 0.36, 0.42, 0.49, 0.6, 0.68]),
    (1.88, [0.09, 0.13, 0.16, 0.2, 0.24, 0.28, 0.33, 0.38, 0.45, 0.52, 0.62]),
    (2.02, [0.1, 0.13, 0.17, 0.21, 0.25, 0.3, 0.35, 0.41, 0.48, 0.57, 0.96]),
    (2.16, [0.1, 0.14, 0.18, 0.22, 0.26, 0.31, 0.37, 0.43, 0.5]),
    (2.3, [0.11, 0.15, 0.19, 0.23, 0.28, 0.33, 0.39, 0.46]),
    (2.44, [0.12, 0.16, 0.2, 0.25, 0.3, 0.36, 0.42, 0.52]),
    (2.58, [0.13, 0.17, 0.21, 0.26, 0.32, 0.38, 0.45]),
    (2.72, [0.14, 0.18, 0.23, 0.28, 0.34, 0.41, 0.62]),
    (2.86, [0.15, 0.2, 0.25, 0.3, 0.37, 0.44, 0.68]),
    (3.0, [0.17, 0.22, 0.27, 0.33, 0.4, 0.6]), (3.15, [0.18, 0.24, 0.3, 0.36, 0.45]),
    (3.3, [0.2, 0.26, 0.33, 0.46]), (3.45, [0.22, 0.28, 0.36, 0.61]), (3.6, [0.24, 0.31, 0.39, 0.58]),
    (3.8, [0.25, 0.33, 0.42]), (4.0, [0.27, 0.35, 0.47]), (4.15, [0.3, 0.38, 0.52]),
    (4.4, [0.29, 0.36, 0.41]), (4.6, [0.31, 0.38]), (4.8, [0.3, 0.36, 0.52]), (5.0, [0.33, 0.4]),
    (5.2, [0.31, 0.37, 0.5]), (5.5, [0.42]), (5.7, [0.5, 0.89]), (5.8, [1.03]), (6.05, [0.35, 0.53]),
    (6.25, [0.38]), (6.4, [0.94]), (7.1, [0.44]), (7.6, [0.84]), (8.3, [0.39]), (8.75, [0.47, 1.16, 1.31]),
]
c_gray_pts = [
    (-1.04, 1.15), (-0.97, 0.85), (-0.95, 0.72), (-0.92, 0.5), (-0.87, 0.55), (-0.85, 0.48),
    (-0.82, 0.6), (-0.78, 2.0), (-0.77, 0.45), (-0.74, 1.3), (-0.7, 0.42), (-0.68, 0.38),
    (-0.66, 0.5), (-0.64, 0.35), (-0.6, 0.3), (-0.56, 0.25), (-0.62, 1.55), (-0.63, 1.67),
    (-0.71, 0.75), (-0.55, 0.8), (-0.5, 0.65), (-1.15, 0.6), (-1.0, 0.3),
    (1.0, 0.8), (1.05, 0.65), (0.82, 1.5), (0.85, 1.0), (0.73, 0.65), (1.1, 1.3), (1.2, 0.45),
]
c_red_rows = [
    (0.05, [-0.2, -0.17, -0.14, -0.11, -0.08, -0.05, -0.02, 0.0, 0.02]),
    (0.17, [-0.27, -0.24, -0.21, -0.18, -0.15, -0.12, -0.09, -0.06, -0.03, -0.01, 0.01, 0.03]),
    (0.3, [-0.29, -0.26, -0.23, -0.2, -0.18, -0.15, -0.12, -0.09, -0.07, -0.04]),
    (0.43, [-0.3, -0.27, -0.24, -0.22, -0.19, -0.16, -0.13, -0.11, -0.08, -0.05]),
    (0.56, [-0.31, -0.28, -0.25, -0.23, -0.2, -0.17, -0.14, -0.12, -0.09, -0.06]),
    (0.69, [-0.3, -0.27, -0.24, -0.22, -0.19, -0.16, -0.13, -0.1, -0.07]),
    (0.82, [-0.31, -0.28, -0.26, -0.23, -0.2, -0.18, -0.15, -0.12, -0.09]),
    (0.95, [-0.3, -0.27, -0.24, -0.21, -0.19, -0.16, -0.13, -0.1]),
    (1.08, [-0.31, -0.28, -0.25, -0.22, -0.2, -0.17, -0.14, -0.11]),
    (1.21, [-0.3, -0.27, -0.24, -0.21, -0.18, -0.15, -0.12]),
    (1.34, [-0.31, -0.28, -0.25, -0.22, -0.19, -0.16, -0.13]),
    (1.47, [-0.3, -0.27, -0.24, -0.21, -0.18, -0.15]),
    (1.6, [-0.29, -0.26, -0.23, -0.2, -0.17]), (1.73, [-0.3, -0.25, -0.22, -0.19]),
    (1.86, [-0.27, -0.24, -0.2]), (2.0, [-0.26, -0.22, -0.19]), (2.15, [-0.25, -0.21]),
    (0.05, [0.05, 0.08, 0.11, 0.14, 0.17, 0.2, 0.23, 0.26]),
    (0.17, [0.06, 0.09, 0.12, 0.15, 0.18, 0.21, 0.24, 0.27, 0.33, 0.38, 0.43]),
    (0.3, [0.07, 0.1, 0.13, 0.16, 0.19, 0.22, 0.25, 0.3, 0.36, 0.42]),
    (0.43, [0.08, 0.11, 0.14, 0.17, 0.2, 0.23, 0.27, 0.34]),
    (0.56, [0.09, 0.12, 0.15, 0.18, 0.21, 0.25, 0.39]),
    (0.69, [0.11, 0.14, 0.18, 0.22]), (0.82, [0.13, 0.17, 0.21]),
]
c_red_pts = [
    (-0.5, 8.1), (-0.43, 7.11), (-0.46, 5.27), (-0.41, 5.21), (-0.41, 4.46), (-0.24, 4.04),
    (-0.35, 3.9), (-0.43, 3.41), (-0.41, 3.41), (-0.33, 3.54), (-0.36, 2.88), (-0.37, 2.78),
    (-0.33, 2.8), (-0.35, 2.68), (-0.41, 2.46), (-0.34, 2.45), (-0.3, 2.45), (-0.27, 2.45),
    (-0.26, 2.5), (-0.78, 2.43), (-0.34, 2.16), (-0.34, 2.04), (-0.41, 1.69), (-0.45, 1.4),
    (-0.37, 1.45), (-0.37, 1.35), (-0.48, 1.12), (-0.85, 1.32), (-0.45, 0.64), (-0.68, 0.72),
    (-0.42, 0.57), (-0.42, 0.4), (-0.77, 0.47), (-0.66, 0.4), (-0.62, 0.42), (-0.6, 0.5),
    (-0.57, 0.35), (-0.56, 0.3), (-0.52, 0.4), (-0.45, 0.2), (-0.41, 0.2), (-0.5, 1.6),
    (-0.5, 0.85), (-0.55, 1.35), (-0.36, 1.0), (-0.38, 0.8), (-0.4, 1.2), (-0.33, 1.7),
    (0.33, 3.97), (0.68, 3.48), (0.36, 2.55), (0.29, 2.11), (0.35, 1.72), (0.34, 1.2), (0.37, 1.1),
    (0.16, 1.05), (0.23, 1.0), (0.52, 1.07), (0.6, 1.14), (1.06, 1.51), (1.04, 0.86), (1.48, 1.18),
    (0.72, 0.74), (0.52, 0.69), (0.4, 0.6), (0.46, 0.28), (0.43, 0.3), (0.39, 0.4),
]
c_blue_pts = [
    (0.29, 3.38), (0.59, 3.08), (0.49, 2.32), (0.3, 2.3), (0.35, 2.26), (0.23, 2.26), (0.3, 2.2),
    (0.13, 2.0), (0.23, 2.05), (0.26, 2.0), (0.19, 1.78), (0.17, 1.63), (0.14, 1.4), (0.16, 1.37),
    (0.19, 1.33), (0.21, 1.42), (0.23, 1.3), (0.17, 1.18), (0.19, 1.2), (0.33, 1.1), (0.3, 1.05),
    (0.27, 1.12), (0.24, 0.92), (0.33, 0.94), (0.13, 0.9), (0.17, 0.8), (0.2, 0.62), (0.23, 0.6),
    (0.28, 0.62), (0.31, 0.52), (0.34, 0.5), (0.27, 0.78), (0.43, 0.7), (0.49, 0.6), (0.68, 0.4),
    (0.48, 0.17), (0.08, 0.2), (0.1, 0.08), (0.11, 1.15), (0.25, 1.5),
    (-0.28, 2.48), (-0.1, 0.85), (-0.28, 0.34),
]

# legend numbers per panel: n(LL), P(LL), n(SL), P(SL), n(equal)
a_legend = ['695', ' < 1x10$^{-15}$', '170', ' < 1x10$^{-15}$', '9102']
b_legend = ['695', ' < 1x10$^{-15}$', '170', ' < 1x10$^{-15}$', '9102']
c_legend = ['642', ' < 1x10$^{-15}$', '161', ' = 2x10$^{-12}$', '8519']


def expand(rows, pts):
    xs, ys = [], []
    for y, row in rows:
        xs += row
        ys += [y] * len(row)
    for x, y in pts:
        xs.append(x)
        ys.append(y)
    return np.array(xs), np.array(ys)


W, H = 611, 1402
fig = plt.figure(figsize=(W / 100, H / 100), dpi=100)


def fx(px):
    return px / W


def fy(py):
    return 1 - py / H


def panel(top, bottom, xlim, xticks, yticks, gray, blue, red, xlabel, xlab_dist):
    ax = fig.add_axes([fx(128), fy(bottom), 480 / W, (bottom - top) / H])
    ax.scatter(*gray, s=11, marker='s', c=GRAY, linewidths=0, zorder=1)
    ax.axhline(1.3, color='black', lw=1.5, ls=(0, (1, 1.5)), zorder=2)
    ax.scatter(*blue, s=8.5, marker='s', c=BLUE, linewidths=0, zorder=3)
    ax.scatter(*red, s=8.5, marker='s', c=RED, linewidths=0, zorder=4)
    ax.set_xlim(xlim)
    ax.set_ylim(0, yticks[-1])
    ax.set_xticks(xticks)
    ax.set_yticks(yticks)
    for s in ['top', 'right']:
        ax.spines[s].set_visible(False)
    for s in ['left', 'bottom']:
        ax.spines[s].set_linewidth(2)
    ax.tick_params(direction='out', length=8, width=1.5, labelsize=15, pad=3)
    ax.set_xlabel(xlabel, fontsize=15)
    ax.xaxis.label.set_va('center')
    ax.xaxis.set_label_coords(0.485, -xlab_dist / (bottom - top))
    ax.set_ylabel('-log$_{10}$($P$)', fontsize=15)
    ax.yaxis.label.set_va('center')
    ax.yaxis.set_label_coords(-63 / 480, 0.525)
    return ax


def legend(y0, vals):
    for i, col in enumerate([RED, BLUE, GRAY]):
        cy = y0 + 4 + 37 * i
        fig.add_artist(mpatches.Rectangle((fx(143.5), fy(cy + 9)), 19 / W, 18 / H,
                                          transform=fig.transFigure, color=col, lw=0))
    lines = [r'Enriched with UPF1$_\mathrm{LL}$',
             '(n=%s; $P$%s)' % (vals[0], vals[1]),
             r'Enriched with UPF1$_\mathrm{SL}$',
             '(n=%s; $P$%s)' % (vals[2], vals[3]),
             'Equally recovered with',
             r'UPF1$_\mathrm{LL}$ and UPF1$_\mathrm{SL}$ (n=%s)' % vals[4]]
    for dy, s in zip([0, 20, 38, 57, 74, 93], lines):
        fig.text(fx(179), fy(y0 + dy), s, fontsize=10, ha='left', va='baseline')


def abundance(y):
    kw = dict(transform=fig.transFigure, arrowstyle='-|>', mutation_scale=9,
              color='#444444', lw=1.4, shrinkA=0, shrinkB=0)
    fig.add_artist(mpatches.FancyArrowPatch((fx(330), fy(y)), (fx(133), fy(y)), **kw))
    fig.add_artist(mpatches.FancyArrowPatch((fx(412), fy(y)), (fx(610), fy(y)), **kw))
    tk = dict(fontsize=9.5, color='#555555', ha='center', va='center')
    fig.text(fx(371), fy(y - 9), 'relative mRNA', **tk)
    fig.text(fx(371), fy(y + 4), 'abundance', **tk)
    fig.text(fx(230), fy(y + 13), 'decreased', **tk)
    fig.text(fx(512), fy(y + 13), 'increased', **tk)


panel(16, 337.3, (-2, 2), [-2, -1, 0, 1, 2], [0, 2, 4, 6, 8, 10, 12],
      expand(a_gray_rows, a_gray_pts), expand([], a_blue_pts), expand(a_red_rows, a_red_pts),
      'Hippuristanol vs. DMSO log$_2$(fold change)', 60)
panel(476.7, 795.7, (-3, 3), [-2, 0, 2], [0, 10, 20, 30],
      expand(b_gray_rows, b_gray_pts), expand([], b_blue_pts), expand(b_red_rows, b_red_pts),
      'Emetine vs. DMSO log$_2$(fold change)', 52)
panel(977, 1297, (-1.5, 1.5), [-1, 0, 1], [0, 2, 4, 6, 8, 10, 12],
      expand(c_gray_rows, c_gray_pts), expand([], c_blue_pts), expand(c_red_rows, c_red_pts),
      'Cycloheximide vs. DMSO log$_2$(fold change)', 46)

legend(30, a_legend)
legend(486, b_legend)
legend(946, c_legend)

abundance(427)
abundance(879)
abundance(1382)

for letter, y in [('A', 22), ('B', 477), ('C', 918)]:
    fig.text(fx(18), fy(y), letter, fontsize=16, fontweight='bold', ha='center', va='center')

fig.savefig('out.png', dpi=100)
